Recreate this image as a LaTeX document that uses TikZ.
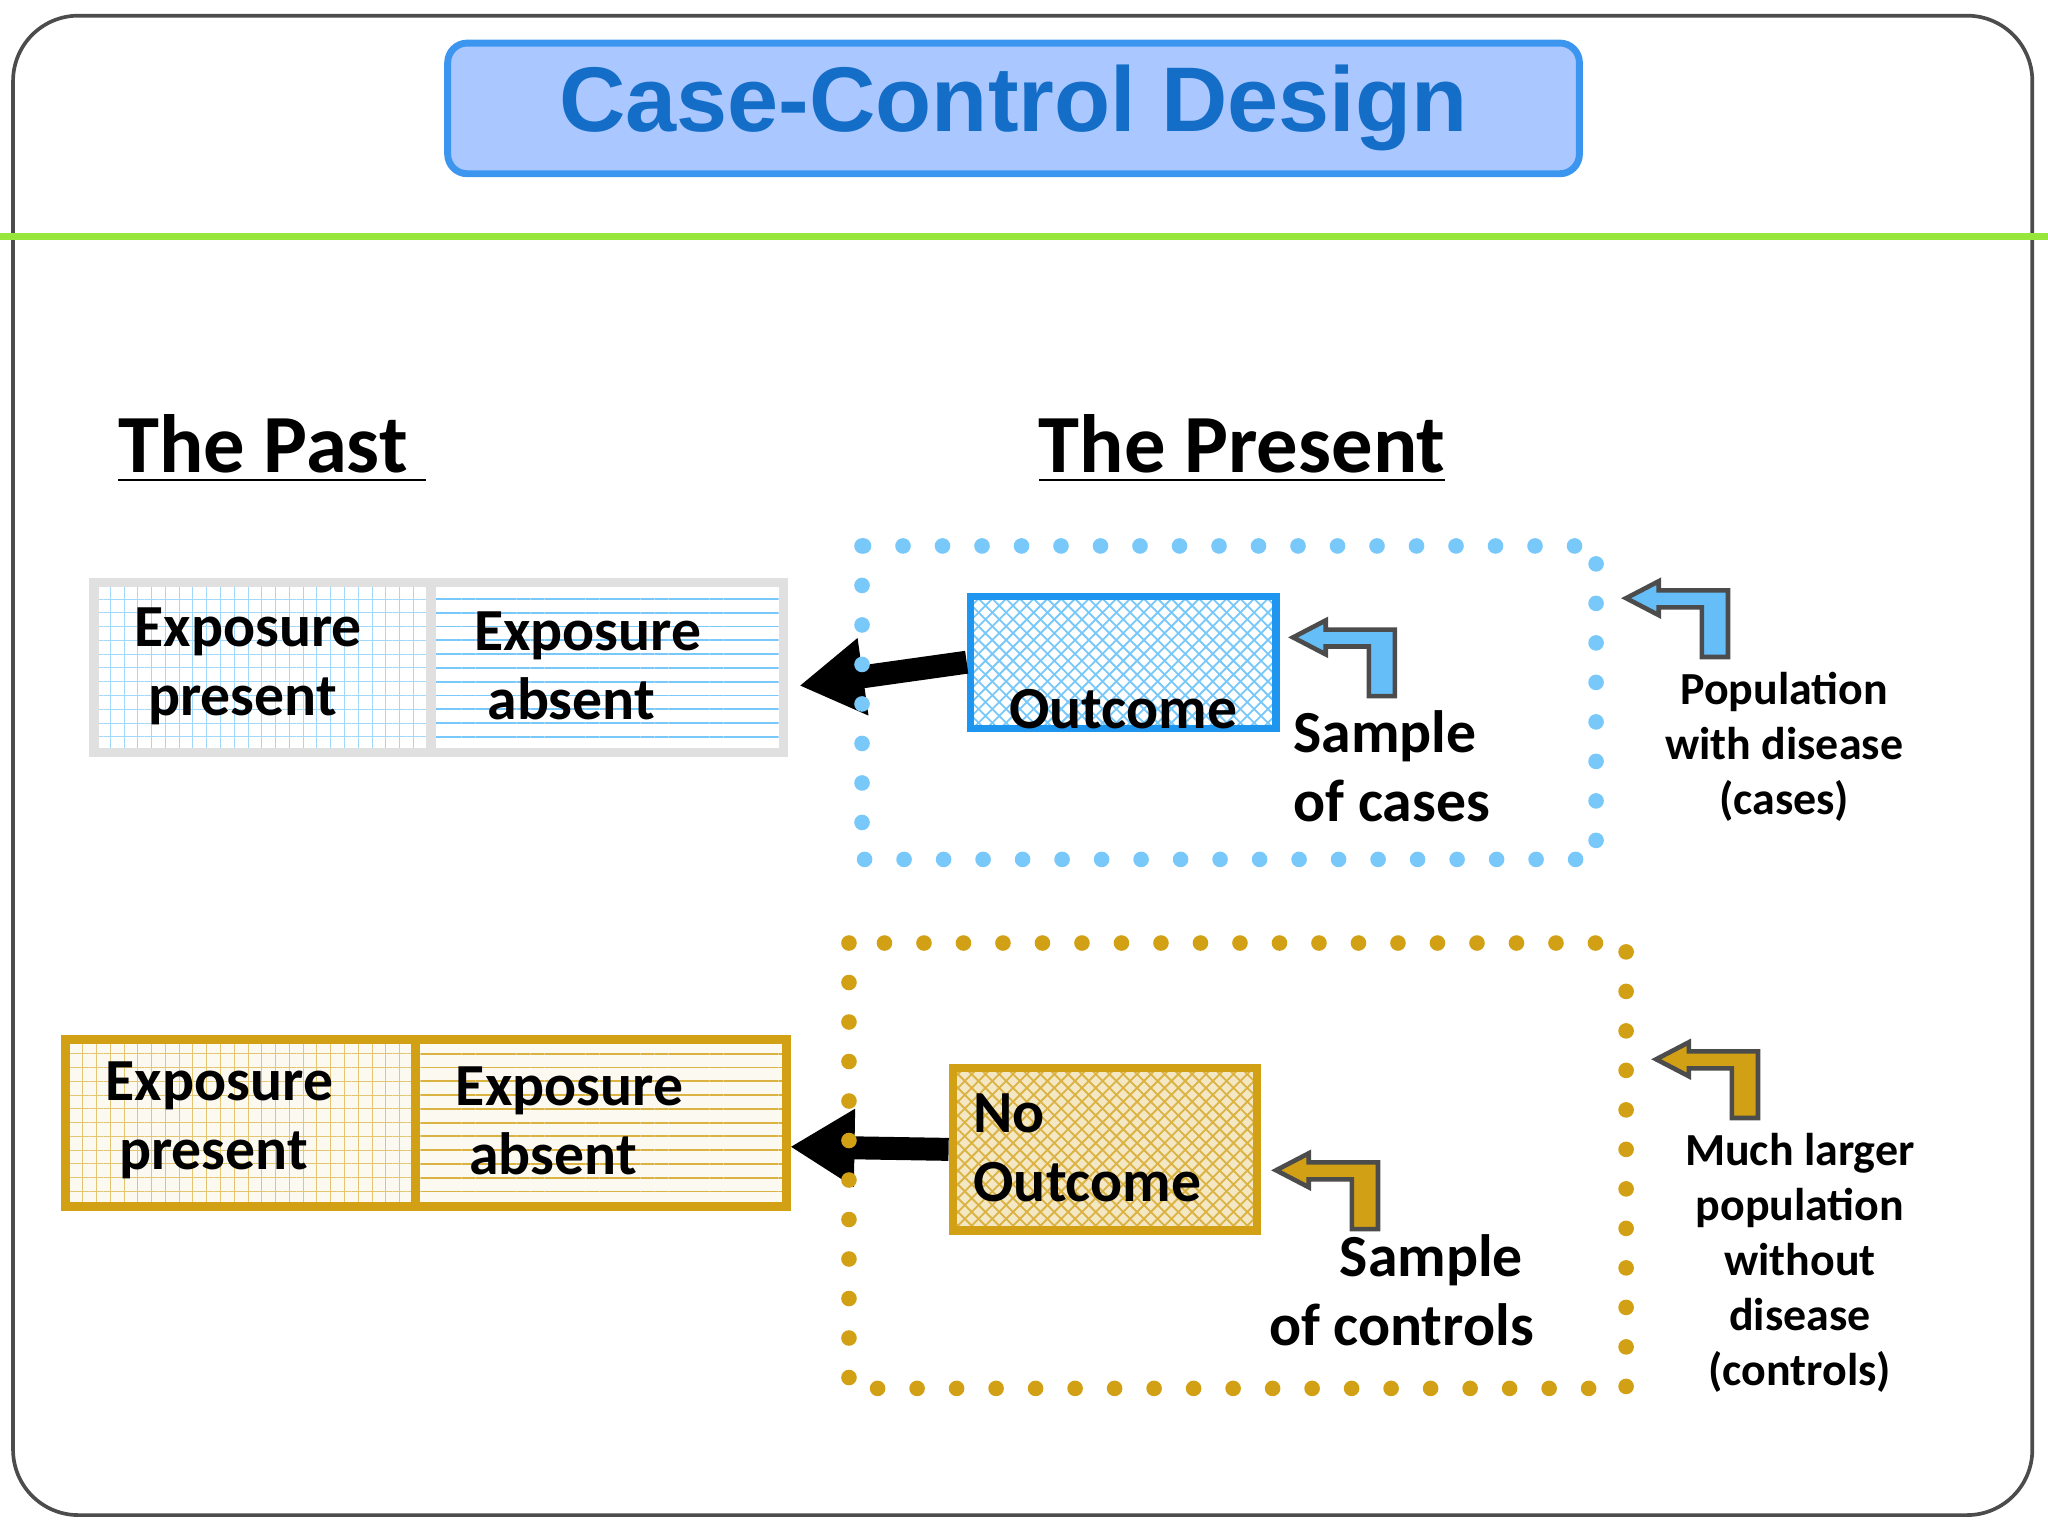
\documentclass[tikz,border=0pt]{standalone}
\usepackage{fontspec}
\setmainfont{Carlito}
\newfontfamily\titlefont{Liberation Sans}
\usetikzlibrary{patterns,patterns.meta,arrows.meta}
\definecolor{tblue}{RGB}{20,110,200}
\definecolor{tfill}{RGB}{170,200,255}
\definecolor{tborder}{RGB}{60,150,240}
\definecolor{lblue}{RGB}{120,200,250}
\definecolor{oblue}{RGB}{30,150,240}
\definecolor{gold}{RGB}{210,160,20}
\definecolor{lgreen}{RGB}{150,230,60}
\tikzset{
 lbl/.style={font=\bfseries\fontsize{13}{15}\selectfont, text=black, align=left},
 side/.style={font=\bfseries\fontsize{10}{12}\selectfont, align=center},
 dotbox/.style={line width=3.4pt, dash pattern=on 0pt off 8.6pt, line cap=round},
 bigarrow/.style={line width=5pt, -{Triangle[length=14pt,width=16pt]}},
 bent/.style={line width=1pt, draw=black!70}
}
\newcommand\bentarrow[3]{%
 \fill[#3,bent] ([shift={(0,13)}]#1,#2) -- ++(25,-13) -- ++(0,7) -- ++(53,0) -- ++(0,51) -- ++(-20,0) -- ++(0,-38) -- ++(-33,0) -- ++(0,6) -- cycle;}
\begin{document}
\begin{tikzpicture}[x=0.01cm,y=-0.01cm]
\useasboundingbox (0,0) rectangle (1568,1176);
\draw[black!70, line width=0.8pt, rounded corners=0.5cm] (10,12) rectangle (1556,1160);
\node[draw=tborder, fill=tfill, line width=1.5pt, rounded corners=0.15cm, minimum width=8.66cm, minimum height=1cm, text=tblue, font=\titlefont\bfseries\fontsize{20}{24}\selectfont] (title) at (776,83) {Case-Control Design};
\draw[lgreen, line width=1.5pt] (0,181) -- (1568,181);
\node[font=\bfseries\fontsize{18}{20}\selectfont, anchor=base west] (past) at (78,362) {\underline{The Past }};
\node[font=\bfseries\fontsize{18}{20}\selectfont, anchor=base west] (present) at (783,362) {\underline{The Present}};
% top past box
\fill[pattern={Lines[angle=0,distance=3pt,line width=0.4pt]}, pattern color=lblue] (330,449) rectangle (597,573);
\fill[pattern={Lines[angle=0,distance=3pt,line width=0.2pt]}, pattern color=lblue!70] (75,449) rectangle (330,573);
\fill[pattern={Lines[angle=90,distance=3pt,line width=0.2pt]}, pattern color=lblue!70] (75,449) rectangle (330,573);
\draw[black!12, line width=2pt] (72,446) rectangle (600,576) (330,446) -- (330,576);
\node[lbl] (ep1) at (190,510) {Exposure\\\ present};
\node[lbl] (ea1) at (450,510) {Exposure\\\ absent};
% outcome
\node[draw=oblue, line width=1.6pt, pattern={crosshatch}, pattern color=lblue, minimum width=2.34cm, minimum height=1.01cm] (out) at (860,507) {};
\node[lbl, anchor=base] at (860,558) {Outcome};
\draw[bigarrow] (out.west) -- (612,525);
\draw[dotbox, lblue] (660,418) rectangle (1222,658);
\bentarrow{990}{475}{lblue!80!oblue}
\bentarrow{1245}{445}{lblue!80!oblue}
\node[lbl, anchor=north west] (sc) at (978,532) {Sample\\of cases};
\node[side] (pop1) at (1366,572) {Population\\with disease\\(cases)};
% bottom past box
\fill[gold!6] (50,796) rectangle (602,924);
\fill[pattern={Lines[angle=0,distance=3pt,line width=0.4pt]}, pattern color=gold!80] (318,796) rectangle (602,924);
\fill[pattern={Lines[angle=0,distance=3pt,line width=0.2pt]}, pattern color=gold!60] (50,796) rectangle (318,924);
\fill[pattern={Lines[angle=90,distance=3pt,line width=0.2pt]}, pattern color=gold!60] (50,796) rectangle (318,924);
\draw[gold, line width=2pt] (50,796) rectangle (602,924) (318,796) -- (318,924);
\node[lbl] (ep2) at (168,858) {Exposure\\\ present};
\node[lbl] (ea2) at (436,858) {Exposure\\\ absent};
\fill[gold!25] (730,818) rectangle (963,942);
\node[draw=gold, line width=1.8pt, pattern={crosshatch}, pattern color=gold!80, minimum width=2.33cm, minimum height=1.24cm] (nout) at (846,880) {};
\node[lbl, anchor=north west] at (733,825) {No\\Outcome};
\draw[bigarrow] (nout.west) -- (605,878);
\draw[dotbox, gold] (650,722) rectangle (1245,1063);
\bentarrow{977}{883}{gold}
\bentarrow{1268}{798}{gold}
\node[lbl, align=center] (scn) at (1073,988) {\quad Sample\\of controls};
\node[side] (pop2) at (1378,967) {Much larger\\population\\without\\disease\\(controls)};
\end{tikzpicture}
\end{document}
